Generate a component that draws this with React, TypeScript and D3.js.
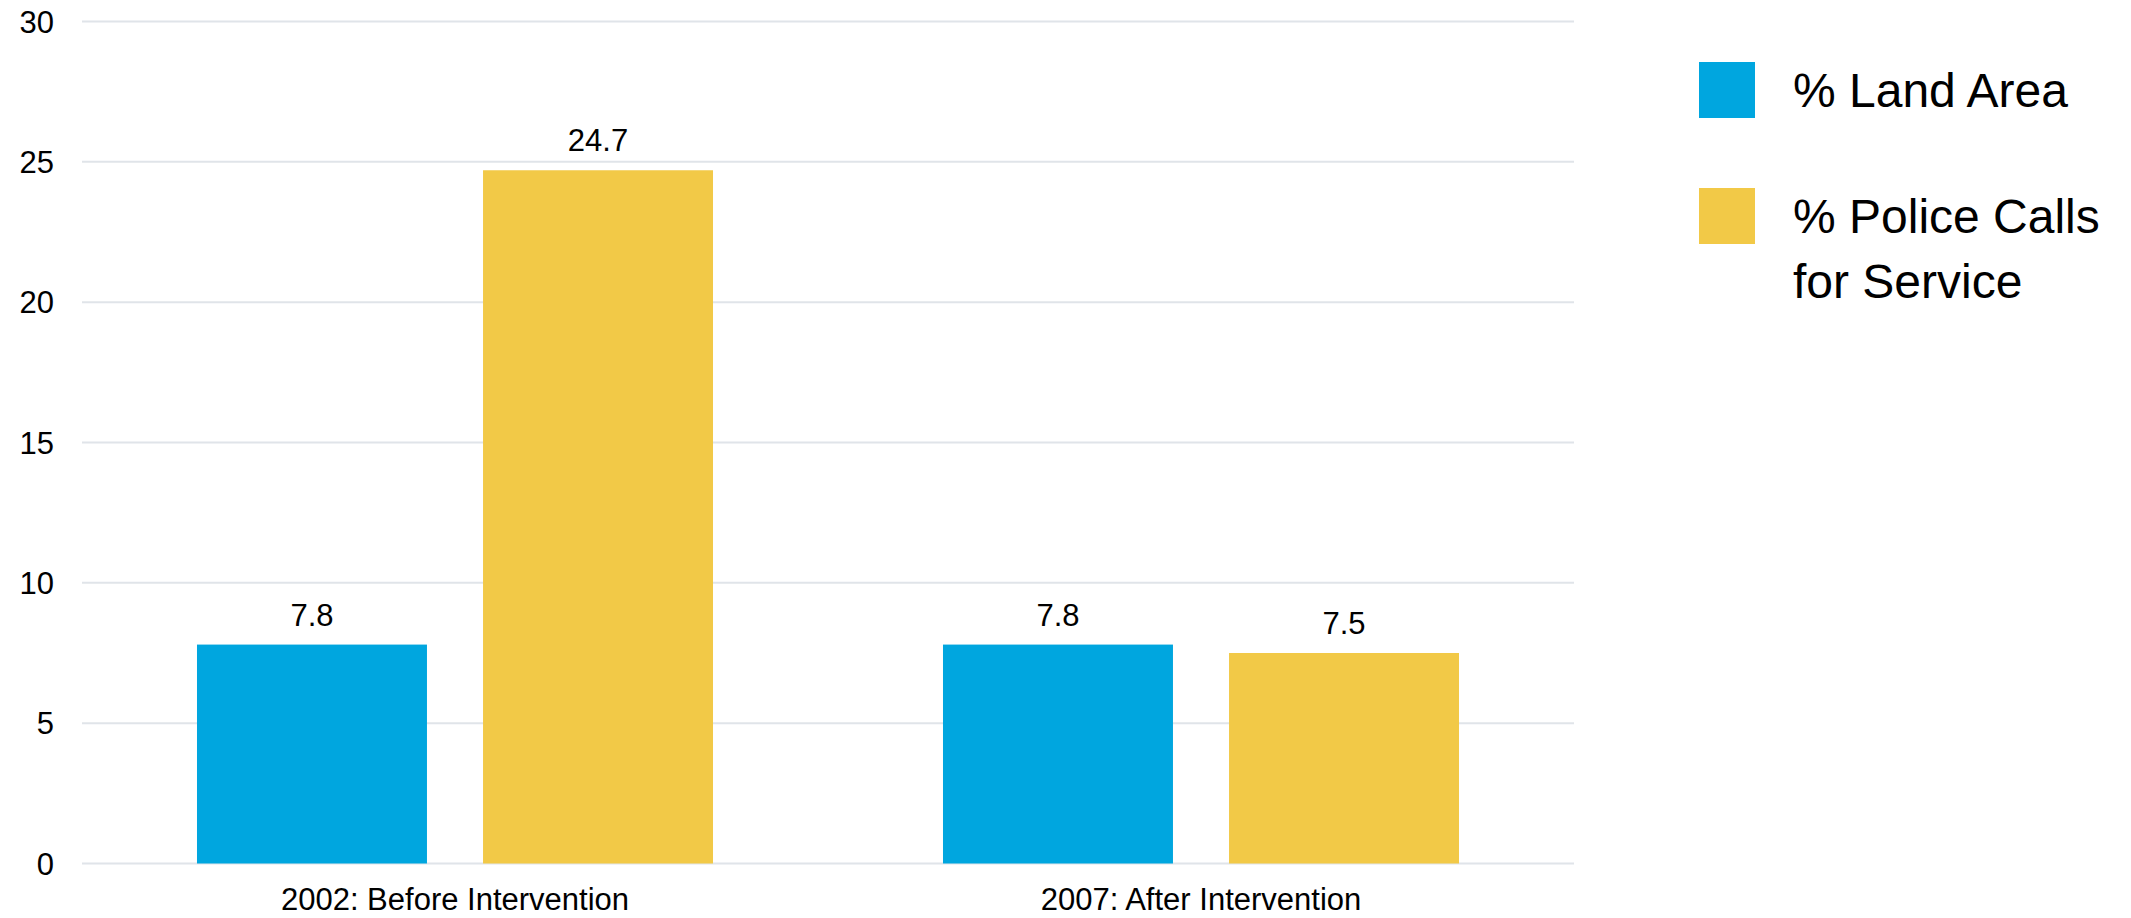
import React from "react";
import * as d3 from "d3";

const categories = ["2002: Before Intervention", "2007: After Intervention"];
const seriesNames = ["% Land Area", "% Police Calls for Service"];
const legendLines = [["% Land Area"], ["% Police Calls", "for Service"]];
const landArea = [7.8, 7.8];
const policeCalls = [24.7, 7.5];
const yTicks = [0, 5, 10, 15, 20, 25, 30];
const colors = ["#00A6DF", "#F2C947"];

const W = 2131;
const H = 918;
const FONT = "'Liberation Sans', Arial, sans-serif";

export default function App() {
  const x0 = d3.scaleBand<string>().domain(categories).range([82, 1574]).padding(0);
  const x1 = d3
    .scaleBand<string>()
    .domain(seriesNames)
    .range([0, x0.bandwidth()])
    .paddingInner(0.196)
    .paddingOuter(0.402);
  const y = d3.scaleLinear().domain([0, 30]).range([863.5, 21.5]);

  const series = [landArea, policeCalls];

  return (
    <svg
      width={W}
      height={H}
      style={{ position: "absolute", left: 0, top: 0, background: "#fff" }}
      fontFamily={FONT}
    >
      {yTicks.map((t) => (
        <g key={t}>
          <line x1={82} x2={1574} y1={y(t)} y2={y(t)} stroke="#E0E4E9" strokeWidth={2} />
          <text x={54} y={y(t)} dy={11} textAnchor="end" fontSize={31} fill="#000">
            {t}
          </text>
        </g>
      ))}
      {categories.map((c, ci) => (
        <g key={c} transform={`translate(${x0(c)},0)`}>
          {seriesNames.map((s, si) => {
            const v = series[si][ci];
            const bx = x1(s)!;
            const bw = x1.bandwidth();
            return (
              <g key={s}>
                <rect x={bx} y={y(v)} width={bw} height={y(0) - y(v)} fill={colors[si]} />
                <text
                  x={bx + bw / 2}
                  y={y(v) - 19}
                  textAnchor="middle"
                  fontSize={31}
                  fill="#000"
                >
                  {v.toFixed(1)}
                </text>
              </g>
            );
          })}
          <text x={x0.bandwidth() / 2} y={910} textAnchor="middle" fontSize={31} fill="#000">
            {c}
          </text>
        </g>
      ))}
      {seriesNames.map((s, si) => {
        const top = [62, 188][si];
        return (
          <g key={s}>
            <rect x={1699} y={top} width={56} height={56} fill={colors[si]} />
            {legendLines[si].map((ln, li) => (
              <text key={li} x={1793} y={top + 44.7 + li * 65} fontSize={48} fill="#000">
                {ln}
              </text>
            ))}
          </g>
        );
      })}
    </svg>
  );
}
